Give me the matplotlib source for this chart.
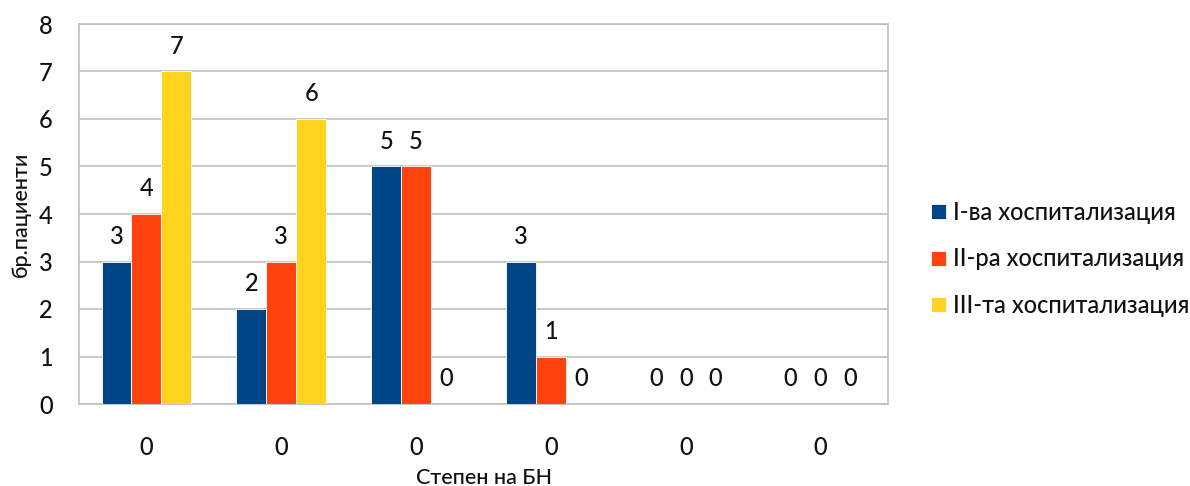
import matplotlib
matplotlib.use("Agg")
import matplotlib.pyplot as plt
import numpy as np

plt.rcParams['font.family'] = ['Lato', 'Open Sans', 'DejaVu Sans']
plt.rcParams['font.weight'] = 'medium'

categories = ["0", "0", "0", "0", "0", "0"]
series_names = ["I-ва хоспитализация", "II-ра хоспитализация", "III-та хоспитализация"]
first_hosp = [3, 2, 5, 3, 0, 0]
second_hosp = [4, 3, 5, 1, 0, 0]
third_hosp = [7, 6, 0, 0, 0, 0]
colors = ["#004586", "#ff420e", "#ffd320"]

W, H = 1190, 486
fig = plt.figure(figsize=(W / 100, H / 100), dpi=100)
ax = fig.add_axes([79 / W, 1 - 404 / H, 809 / W, 380 / H])

x = np.arange(len(categories))
width = 0.222
for i, (vals, name, c) in enumerate(zip([first_hosp, second_hosp, third_hosp], series_names, colors)):
    pos = x + (i - 1) * width
    bars = ax.bar(pos, vals, width, color=c, edgecolor="white", linewidth=0.6, label=name, zorder=3)
    for b, v in zip(bars, vals):
        ax.annotate(str(v), (b.get_x() + b.get_width() / 2, v), xytext=(0, 10),
                    textcoords="offset points", ha="center", va="bottom", fontsize=17, color="#111111")

ax.set_xlim(-0.5, len(categories) - 0.5)
ax.set_ylim(0, 8)
ax.set_yticks(range(0, 9))
ax.set_xticks(x)
ax.set_xticklabels(categories)
ax.tick_params(axis="both", length=0, labelsize=17, colors="#111111")
ax.tick_params(axis="x", pad=23)
ax.tick_params(axis="y", pad=19)
ax.grid(axis="y", color="#bfbfbf", linewidth=1.2, zorder=0)
for s in ax.spines.values():
    s.set_color("#bfbfbf")
    s.set_linewidth(1.2)

fig.text(21 / W, 1 - 214 / H, "бр.пациенти", rotation=90, ha="center", va="center",
         fontsize=15.5, color="#111111")
fig.text(484 / W, 1 - 478 / H, "Степен на БН", ha="center", va="center",
         fontsize=15.5, color="#111111")

leg = fig.legend(loc="center left", bbox_to_anchor=(931 / W, 1 - 259 / H), frameon=False,
                 borderpad=0, borderaxespad=0,
                 fontsize=17, handlelength=0.62, handleheight=0.62, handletextpad=0.32,
                 labelspacing=1.0, labelcolor="#111111")

fig.savefig("out.png", dpi=100)
